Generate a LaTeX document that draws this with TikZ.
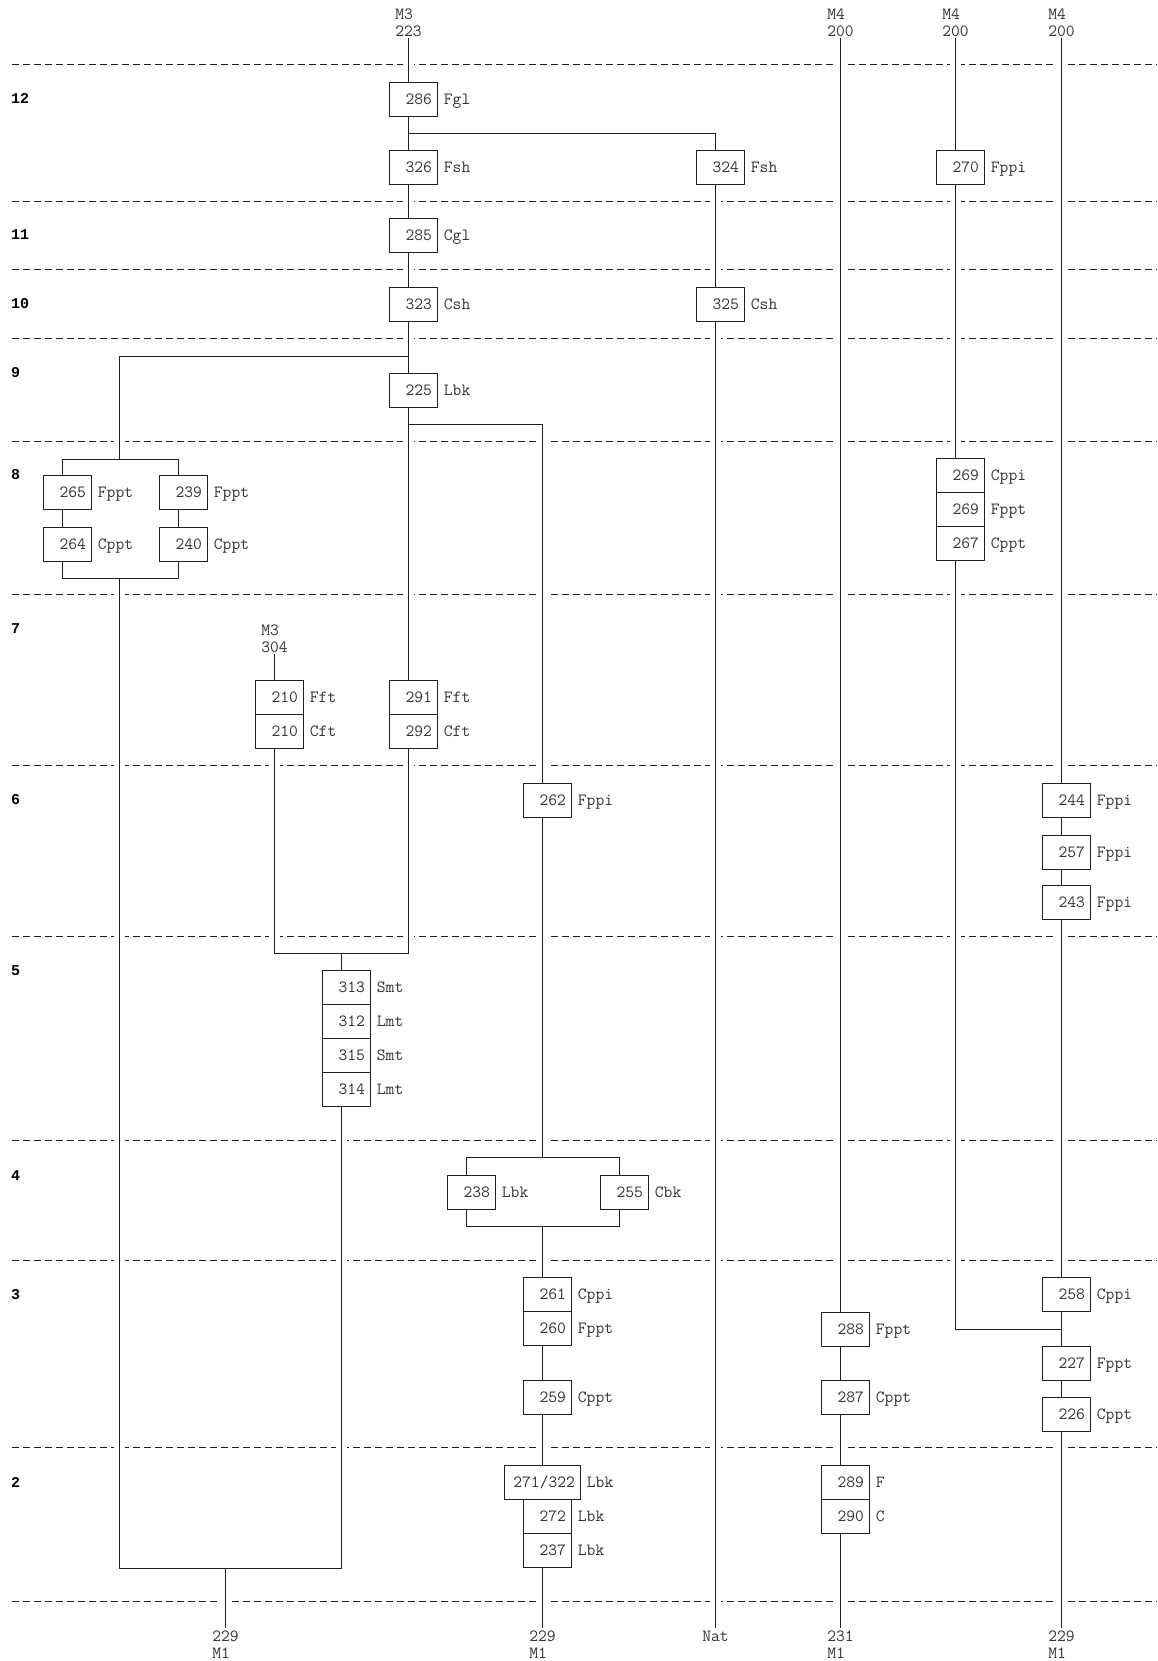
\documentclass[tikz,border=0pt]{standalone}
\usepackage{fontspec}
\newfontfamily\rowfont{Liberation Mono}
\usetikzlibrary{calc}
\pgfdeclarelayer{dashl}
\pgfdeclarelayer{halol}
\pgfdeclarelayer{wirel}
\pgfsetlayers{dashl,halol,wirel,main}
\definecolor{linec}{gray}{0.12}
\definecolor{textc}{gray}{0.2}
\newcommand\numfont{\fontsize{17.1}{17}\selectfont\ttfamily}
\tikzset{
  box/.style={draw=linec, line width=1.45pt, fill=white, minimum width=48pt, minimum height=34pt,
    inner sep=0pt, text width=37pt, align=right, font=\numfont, text=textc,
    text height=10.4pt, text depth=0pt},
  widebox/.style={box, minimum width=76pt, text width=65pt},
  lab/.style={font=\numfont, text=textc, inner sep=0pt, text height=10.4pt, text depth=0pt},
  wire/.style={draw=linec, line width=1.45pt, line cap=rect},
  halo/.style={draw=white, line width=11pt},
  gridline/.style={draw=linec, line width=1.25pt, dash pattern=on 7pt off 4pt},
  rowlab/.style={font=\rowfont\bfseries\fontsize{15}{15}\selectfont, text=black, anchor=west, inner sep=0pt},
  endlab/.style={font=\numfont, text=textc, align=left, inner sep=0pt},
}
\newcommand\bx[6][box]{\node[#1,label={[lab,name=#2l]east:#6}] (#2) at (#3,#4) {#5};}
\newcommand\vwires[1]{%
\draw[#1]
 (A0) -- (n286.north -| A0)
 (n286.south -| A0) -- (n326.north -| A0)
 (n326.south -| A0) -- (n285.north -| A0)
 (n285.south -| A0) -- (n323.north -| A0)
 (n323.south -| A0) -- (n225.north -| A0)
 (n225.south -| A0) -- (n291.north -| A0)
 (n292.south -| A0) -- (A5)
 (Bj) -- (n324.north -| Bj)
 (n324.south -| Bj) -- (n325.north -| Bj)
 (n325.south -| Bj) -- (Bend)
 (C0) -- (n288.north -| C0)
 (n288.south -| C0) -- (n287.north -| C0)
 (n287.south -| C0) -- (n289.north -| C0)
 (n290.south -| C0) -- (Cend)
 (D0) -- (n270.north -| D0)
 (n270.south -| D0) -- (n269a.north -| D0)
 (n267.south -| D0) -- (Dj)
 (E0) -- (n244.north -| E0)
 (n244.south -| E0) -- (n257.north -| E0)
 (n257.south -| E0) -- (n243.north -| E0)
 (n243.south -| E0) -- (n258.north -| E0)
 (n258.south -| E0) -- (n227.north -| E0)
 (n227.south -| E0) -- (n226.north -| E0)
 (n226.south -| E0) -- (Eend)
 (L1) -- (L2)
 (BL1) -- (n265.north -| BL1)
 (n265.south -| BL1) -- (n264.north -| BL1)
 (n264.south -| BL1) -- (BL2)
 (BR1) -- (n239.north -| BR1)
 (n239.south -| BR1) -- (n240.north -| BR1)
 (n240.south -| BR1) -- (BR2)
 (L3) -- (L4)
 (G0) -- (n210a.north -| G0)
 (n210b.south -| G0) -- (G5)
 (H5) -- (n313.north -| H5)
 (n314.south -| H5) -- (H9)
 (O1) -- (O2)
 (K0) -- (n262.north -| K0)
 (n262.south -| K0) -- (K4)
 (K4L) -- (n238.north -| K4L)
 (n238.south -| K4L) -- (K5L)
 (K4R) -- (n255.north -| K4R)
 (n255.south -| K4R) -- (K5R)
 (K5) -- (n261.north -| K5)
 (n260.south -| K5) -- (n259.north -| K5)
 (n259.south -| K5) -- (n271.north -| K5)
 (n237.south -| K5) -- (Kend);}
\begin{document}
\begin{tikzpicture}[x=1pt,y=-1pt,label distance=5.5pt]
\useasboundingbox (0,0) rectangle (1157,1661);
% coordinates
\coordinate (A0) at (408.5,39);
\coordinate (A1) at (408.5,133.5);
\coordinate (A3) at (408.5,356.5);
\coordinate (A4) at (408.5,424.5);
\coordinate (A5) at (408.5,953.5);
\coordinate (Bj) at (715.5,133.5);
\coordinate (Bend) at (715.5,1627);
\coordinate (C0) at (840.5,39);
\coordinate (Cend) at (840.5,1627);
\coordinate (D0) at (955.5,39);
\coordinate (Dj) at (955.5,1329.5);
\coordinate (E0) at (1061.5,39);
\coordinate (Ej) at (1061.5,1329.5);
\coordinate (Eend) at (1061.5,1627);
\coordinate (L1) at (119.5,356.5);
\coordinate (L2) at (119.5,459.5);
\coordinate (BL1) at (62.5,459.5);
\coordinate (BR1) at (178.5,459.5);
\coordinate (BL2) at (62.5,578.5);
\coordinate (BR2) at (178.5,578.5);
\coordinate (L3) at (119.5,578.5);
\coordinate (L4) at (119.5,1568.5);
\coordinate (G0) at (274.5,655);
\coordinate (G5) at (274.5,953.5);
\coordinate (H5) at (341.5,953.5);
\coordinate (H9) at (341.5,1568.5);
\coordinate (O1) at (225.5,1568.5);
\coordinate (O2) at (225.5,1627);
\coordinate (K0) at (542.5,424.5);
\coordinate (K4) at (542.5,1157.5);
\coordinate (K4L) at (466.5,1157.5);
\coordinate (K4R) at (619.5,1157.5);
\coordinate (K5) at (542.5,1226.5);
\coordinate (K5L) at (466.5,1226.5);
\coordinate (K5R) at (619.5,1226.5);
\coordinate (Kend) at (542.5,1627);
% boxes
\bx{n286}{413.5}{99.5}{286}{Fgl}
\bx{n326}{413.5}{167.5}{326}{Fsh}
\bx{n324}{720.5}{167.5}{324}{Fsh}
\bx{n270}{960.5}{167.5}{270}{Fppi}
\bx{n285}{413.5}{235.5}{285}{Cgl}
\bx{n323}{413.5}{304.5}{323}{Csh}
\bx{n325}{720.5}{304.5}{325}{Csh}
\bx{n225}{413.5}{390.5}{225}{Lbk}
\bx{n265}{67.5}{492.5}{265}{Fppt}
\bx{n264}{67.5}{544.5}{264}{Cppt}
\bx{n239}{183.5}{492.5}{239}{Fppt}
\bx{n240}{183.5}{544.5}{240}{Cppt}
\bx{n269a}{960.5}{475.5}{269}{Cppi}
\bx{n269b}{960.5}{509.5}{269}{Fppt}
\bx{n267}{960.5}{543.5}{267}{Cppt}
\bx{n210a}{279.5}{697.5}{210}{Fft}
\bx{n210b}{279.5}{731.5}{210}{Cft}
\bx{n291}{413.5}{697.5}{291}{Fft}
\bx{n292}{413.5}{731.5}{292}{Cft}
\bx{n262}{547.5}{800.5}{262}{Fppi}
\bx{n244}{1066.5}{800.5}{244}{Fppi}
\bx{n257}{1066.5}{852.5}{257}{Fppi}
\bx{n243}{1066.5}{902.5}{243}{Fppi}
\bx{n313}{346.5}{987.5}{313}{Smt}
\bx{n312}{346.5}{1021.5}{312}{Lmt}
\bx{n315}{346.5}{1055.5}{315}{Smt}
\bx{n314}{346.5}{1089.5}{314}{Lmt}
\bx{n238}{471.5}{1192.5}{238}{Lbk}
\bx{n255}{624.5}{1192.5}{255}{Cbk}
\bx{n261}{547.5}{1294.5}{261}{Cppi}
\bx{n260}{547.5}{1328.5}{260}{Fppt}
\bx{n259}{547.5}{1397.5}{259}{Cppt}
\bx{n288}{845.5}{1329.5}{288}{Fppt}
\bx{n287}{845.5}{1397.5}{287}{Cppt}
\bx{n258}{1066.5}{1294.5}{258}{Cppi}
\bx{n227}{1066.5}{1363.5}{227}{Fppt}
\bx{n226}{1066.5}{1414.5}{226}{Cppt}
\bx[widebox]{n271}{542.5}{1482.5}{271/322}{Lbk}
\bx{n272}{547.5}{1516.5}{272}{Lbk}
\bx{n237}{547.5}{1550.5}{237}{Lbk}
\bx{n289}{845.5}{1482.5}{289}{F}
\bx{n290}{845.5}{1516.5}{290}{C}
% end labels
\node[endlab] (tA) at (408.5,22.5) {M3\\223};
\node[endlab] (tC) at (840.5,22.5) {M4\\200};
\node[endlab] (tD) at (955.5,22.5) {M4\\200};
\node[endlab] (tE) at (1061.5,22.5) {M4\\200};
\node[endlab] (tG) at (274.5,638.5) {M3\\304};
\node[endlab] (bO) at (225.5,1644.5) {229\\M1};
\node[endlab] (bK) at (542.5,1644.5) {229\\M1};
\node[endlab] (bB) at (715.5,1636) {Nat};
\node[endlab] (bC) at (840.5,1644.5) {231\\M1};
\node[endlab] (bE) at (1061.5,1644.5) {229\\M1};
% row labels
\node[rowlab] (r12) at (11,98.5) {12};
\node[rowlab] (r11) at (11,235) {11};
\node[rowlab] (r10) at (11,304) {10};
\node[rowlab] (r9) at (11,373) {9};
\node[rowlab] (r8) at (11,474.7) {8};
\node[rowlab] (r7) at (11,629) {7};
\node[rowlab] (r6) at (11,800) {6};
\node[rowlab] (r5) at (11,970.5) {5};
\node[rowlab] (r4) at (11,1176) {4};
\node[rowlab] (r3) at (11,1294.7) {3};
\node[rowlab] (r2) at (11,1482.3) {2};
% dashed rules
\begin{pgfonlayer}{dashl}
\foreach \yy in {64.5,201.5,269.5,338.5,441.5,594.5,765.5,936.5,1140.5,1260.5,1447.5,1601.5}
  \draw[gridline] (12,\yy) -- (1157,\yy);
\end{pgfonlayer}
\begin{pgfonlayer}{halol}
\vwires{halo}
\end{pgfonlayer}
\begin{pgfonlayer}{wirel}
\vwires{wire}
\draw[wire] (A1) -- (Bj);
\draw[wire] (A3) -- (L1);
\draw[wire] (A4) -- (K0);
\draw[wire] (BL1) -- (BR1);
\draw[wire] (BL2) -- (BR2);
\draw[wire] (G5) -- (A5);
\draw[wire] (L4) -- (H9);
\draw[wire] (K4L) -- (K4R);
\draw[wire] (K5L) -- (K5R);
\draw[wire] (Dj) -- (Ej);
\end{pgfonlayer}
\end{tikzpicture}
\end{document}
